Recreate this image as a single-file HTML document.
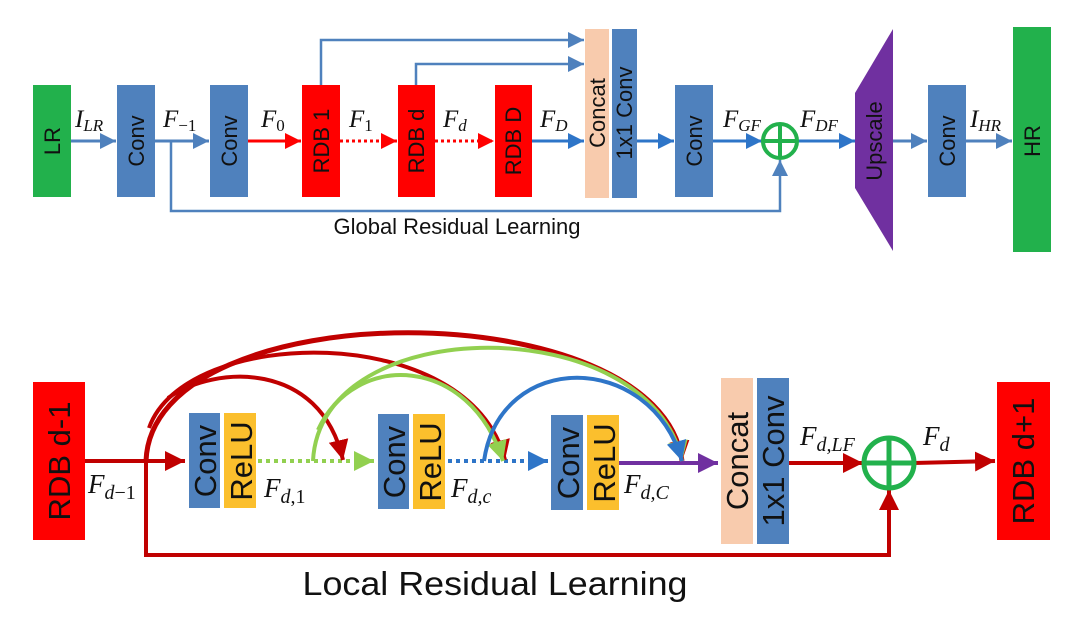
<!DOCTYPE html>
<html><head><meta charset="utf-8"><style>
html,body{margin:0;padding:0;background:#fff;}
svg{display:block;}
.bt{font-family:"Liberation Sans",sans-serif;fill:#111;}
.m{font-family:"Liberation Serif",serif;font-style:italic;fill:#111;}
</style></head><body>
<svg width="1080" height="626" viewBox="0 0 1080 626" xmlns="http://www.w3.org/2000/svg">
<defs>
<marker id="aB" viewBox="0 0 10 10" markerWidth="16" markerHeight="16" refX="10" refY="5" orient="auto" markerUnits="userSpaceOnUse"><path d="M0,0 L10,5 L0,10 z" fill="#4f81bd"/></marker>
<marker id="aD" viewBox="0 0 10 10" markerWidth="16" markerHeight="16" refX="10" refY="5" orient="auto" markerUnits="userSpaceOnUse"><path d="M0,0 L10,5 L0,10 z" fill="#2e75c8"/></marker>
<marker id="aR" viewBox="0 0 10 10" markerWidth="16" markerHeight="16" refX="10" refY="5" orient="auto" markerUnits="userSpaceOnUse"><path d="M0,0 L10,5 L0,10 z" fill="#ff0000"/></marker>
<marker id="aK" viewBox="0 0 10 10" markerWidth="20" markerHeight="20" refX="10" refY="5" orient="auto" markerUnits="userSpaceOnUse"><path d="M0,0 L10,5 L0,10 z" fill="#c00000"/></marker>
<marker id="aG" viewBox="0 0 10 10" markerWidth="20" markerHeight="20" refX="10" refY="5" orient="auto" markerUnits="userSpaceOnUse"><path d="M0,0 L10,5 L0,10 z" fill="#92d050"/></marker>
<marker id="aL" viewBox="0 0 10 10" markerWidth="20" markerHeight="20" refX="10" refY="5" orient="auto" markerUnits="userSpaceOnUse"><path d="M0,0 L10,5 L0,10 z" fill="#2e75c8"/></marker>
<marker id="aP" viewBox="0 0 10 10" markerWidth="20" markerHeight="20" refX="10" refY="5" orient="auto" markerUnits="userSpaceOnUse"><path d="M0,0 L10,5 L0,10 z" fill="#7030a0"/></marker>
</defs>

<!-- ===== TOP ===== -->
<g fill="none" stroke-width="3">
<line x1="71" y1="141" x2="116" y2="141" stroke="#4f81bd" marker-end="url(#aB)"/>
<line x1="155" y1="141" x2="209" y2="141" stroke="#4f81bd" marker-end="url(#aB)"/>
<line x1="248" y1="141" x2="301" y2="141" stroke="#ff0000" marker-end="url(#aR)"/>
<line x1="340" y1="141" x2="397" y2="141" stroke="#ff0000" stroke-dasharray="3,3" marker-end="url(#aR)"/>
<line x1="435" y1="141" x2="494" y2="141" stroke="#ff0000" stroke-dasharray="3,3" marker-end="url(#aR)"/>
<line x1="532" y1="141" x2="584" y2="141" stroke="#2e75c8" marker-end="url(#aD)"/>
<polyline points="321,85 321,40 584,40" stroke="#4f81bd" stroke-width="2.5" marker-end="url(#aB)"/>
<polyline points="416,85 416,64 584,64" stroke="#4f81bd" stroke-width="2.5" marker-end="url(#aB)"/>
<line x1="637" y1="141" x2="674" y2="141" stroke="#2e75c8" marker-end="url(#aD)"/>
<line x1="713" y1="141" x2="762" y2="141" stroke="#2e75c8" marker-end="url(#aD)"/>
<line x1="798" y1="141" x2="855" y2="141" stroke="#2e75c8" marker-end="url(#aD)"/>
<line x1="893" y1="141" x2="927" y2="141" stroke="#4f81bd" marker-end="url(#aB)"/>
<line x1="966" y1="141" x2="1012" y2="141" stroke="#4f81bd" marker-end="url(#aB)"/>
<polyline points="171,141 171,211 780,211 780,160" stroke="#4f81bd" stroke-width="2.5" marker-end="url(#aB)"/>
</g>
<rect x="33" y="85" width="38" height="112" fill="#22b14c"/>
<rect x="117" y="85" width="38" height="112" fill="#4f81bd"/>
<rect x="210" y="85" width="38" height="112" fill="#4f81bd"/>
<rect x="302" y="85" width="38" height="112" fill="#ff0000"/>
<rect x="398" y="85" width="37" height="112" fill="#ff0000"/>
<rect x="495" y="85" width="37" height="112" fill="#ff0000"/>
<rect x="585" y="29" width="24" height="169" fill="#f8cbad"/>
<rect x="612" y="29" width="25" height="169" fill="#4f81bd"/>
<rect x="675" y="85" width="38" height="112" fill="#4f81bd"/>
<polygon points="855,93 893,29 893,251 855,188" fill="#7030a0"/>
<rect x="928" y="85" width="38" height="112" fill="#4f81bd"/>
<rect x="1013" y="27" width="38" height="225" fill="#22b14c"/>
<circle cx="780" cy="141" r="17" fill="none" stroke="#22b14c" stroke-width="4"/>
<line x1="780" y1="124" x2="780" y2="158" stroke="#22b14c" stroke-width="4"/>
<line x1="763" y1="141" x2="797" y2="141" stroke="#22b14c" stroke-width="4"/>

<g class="bt" font-size="22" text-anchor="middle">
<text transform="translate(60,141) rotate(-90)">LR</text>
<text transform="translate(144,141) rotate(-90)">Conv</text>
<text transform="translate(237,141) rotate(-90)">Conv</text>
<text transform="translate(329,141) rotate(-90)">RDB 1</text>
<text transform="translate(424,141) rotate(-90)">RDB d</text>
<text transform="translate(521,141) rotate(-90)">RDB D</text>
<text transform="translate(605,113) rotate(-90)">Concat</text>
<text transform="translate(632,113) rotate(-90)">1x1 Conv</text>
<text transform="translate(702,141) rotate(-90)">Conv</text>
<text transform="translate(882,141) rotate(-90)">Upscale</text>
<text transform="translate(955,141) rotate(-90)">Conv</text>
<text transform="translate(1040,141) rotate(-90)">HR</text>
<text x="457" y="234">Global Residual Learning</text>
</g>
<g class="m" font-size="25">
<text x="75" y="127">I<tspan font-size="17" dy="4">LR</tspan></text>
<text x="163" y="127">F<tspan font-size="17" font-style="normal" dy="4">−1</tspan></text>
<text x="261" y="127">F<tspan font-size="17" font-style="normal" dy="4">0</tspan></text>
<text x="349" y="127">F<tspan font-size="17" font-style="normal" dy="4">1</tspan></text>
<text x="443" y="127">F<tspan font-size="17" dy="4">d</tspan></text>
<text x="540" y="127">F<tspan font-size="17" dy="4">D</tspan></text>
<text x="723" y="127">F<tspan font-size="17" dy="4">GF</tspan></text>
<text x="800" y="127">F<tspan font-size="17" dy="4">DF</tspan></text>
<text x="970" y="127">I<tspan font-size="17" dy="4">HR</tspan></text>
</g>

<!-- ===== BOTTOM ===== -->
<g fill="none">
<line x1="85" y1="461" x2="185" y2="461" stroke="#c00000" stroke-width="4" marker-end="url(#aK)"/>
<line x1="258" y1="461" x2="374" y2="461" stroke="#92d050" stroke-width="4" stroke-dasharray="4,4" marker-end="url(#aG)"/>
<line x1="448" y1="461" x2="548" y2="461" stroke="#2e75c8" stroke-width="4" stroke-dasharray="4,4" marker-end="url(#aL)"/>
<line x1="619" y1="463" x2="718" y2="463" stroke="#7030a0" stroke-width="4" marker-end="url(#aP)"/>
<line x1="789" y1="463" x2="863" y2="463" stroke="#c00000" stroke-width="4" marker-end="url(#aK)"/>
<line x1="914" y1="463" x2="995" y2="461" stroke="#c00000" stroke-width="4" marker-end="url(#aK)"/>
<polyline points="146,461 146,555 889,555 889,490" stroke="#c00000" stroke-width="4" marker-end="url(#aK)"/>
<!-- arcs -->
<path d="M146,461 C152,290 660,290 682,461" stroke="#c00000" stroke-width="5" marker-end="url(#aK)"/>
<path d="M149,428 C185,325 470,320 505,460" stroke="#c00000" stroke-width="4" marker-end="url(#aK)"/>
<path d="M168,398 C215,365 320,360 343,460" stroke="#c00000" stroke-width="4" marker-end="url(#aK)"/>
<path d="M313,461 C320,310 650,310 682,461" stroke="#92d050" stroke-width="4" marker-end="url(#aG)"/>
<path d="M318,430 C355,350 470,355 503,461" stroke="#92d050" stroke-width="4" marker-end="url(#aG)"/>
<path d="M484,461 C500,350 650,350 682,461" stroke="#2e75c8" stroke-width="4" marker-end="url(#aL)"/>
</g>
<rect x="33" y="382" width="52" height="158" fill="#ff0000"/>
<rect x="189" y="413" width="31" height="95" fill="#4f81bd"/>
<rect x="224" y="413" width="32" height="95" fill="#fbbf2d"/>
<rect x="378" y="414" width="31" height="95" fill="#4f81bd"/>
<rect x="413" y="414" width="32" height="95" fill="#fbbf2d"/>
<rect x="551" y="415" width="32" height="95" fill="#4f81bd"/>
<rect x="587" y="415" width="32" height="95" fill="#fbbf2d"/>
<rect x="721" y="378" width="32" height="166" fill="#f8cbad"/>
<rect x="757" y="378" width="32" height="166" fill="#4f81bd"/>
<rect x="997" y="382" width="53" height="158" fill="#ff0000"/>
<circle cx="889" cy="463" r="25" fill="none" stroke="#22b14c" stroke-width="5"/>
<line x1="889" y1="438" x2="889" y2="488" stroke="#22b14c" stroke-width="5"/>
<line x1="864" y1="463" x2="914" y2="463" stroke="#22b14c" stroke-width="5"/>

<g class="bt" font-size="31" text-anchor="middle">
<text transform="translate(70,461) rotate(-90)">RDB d-1</text>
<text transform="translate(216,461) rotate(-90)">Conv</text>
<text transform="translate(252,461) rotate(-90)">ReLU</text>
<text transform="translate(405,462) rotate(-90)">Conv</text>
<text transform="translate(441,462) rotate(-90)">ReLU</text>
<text transform="translate(579,463) rotate(-90)">Conv</text>
<text transform="translate(615,463) rotate(-90)">ReLU</text>
<text transform="translate(748,461) rotate(-90)">Concat</text>
<text transform="translate(784,461) rotate(-90)">1x1 Conv</text>
<text transform="translate(1034,461) rotate(-90)">RDB d+1</text>
<text x="495" y="595" font-size="33" textLength="385" lengthAdjust="spacingAndGlyphs">Local Residual Learning</text>
</g>
<g class="m" font-size="27">
<text x="88" y="493">F<tspan font-size="20" dy="6">d</tspan><tspan font-size="20" font-style="normal">−1</tspan></text>
<text x="264" y="497">F<tspan font-size="20" dy="6">d</tspan><tspan font-size="20" font-style="normal">,1</tspan></text>
<text x="451" y="497">F<tspan font-size="20" dy="6">d,c</tspan></text>
<text x="624" y="493">F<tspan font-size="20" dy="6">d,C</tspan></text>
<text x="800" y="445">F<tspan font-size="20" dy="6">d,LF</tspan></text>
<text x="923" y="445">F<tspan font-size="20" dy="6">d</tspan></text>
</g>
</svg>
</body></html>
